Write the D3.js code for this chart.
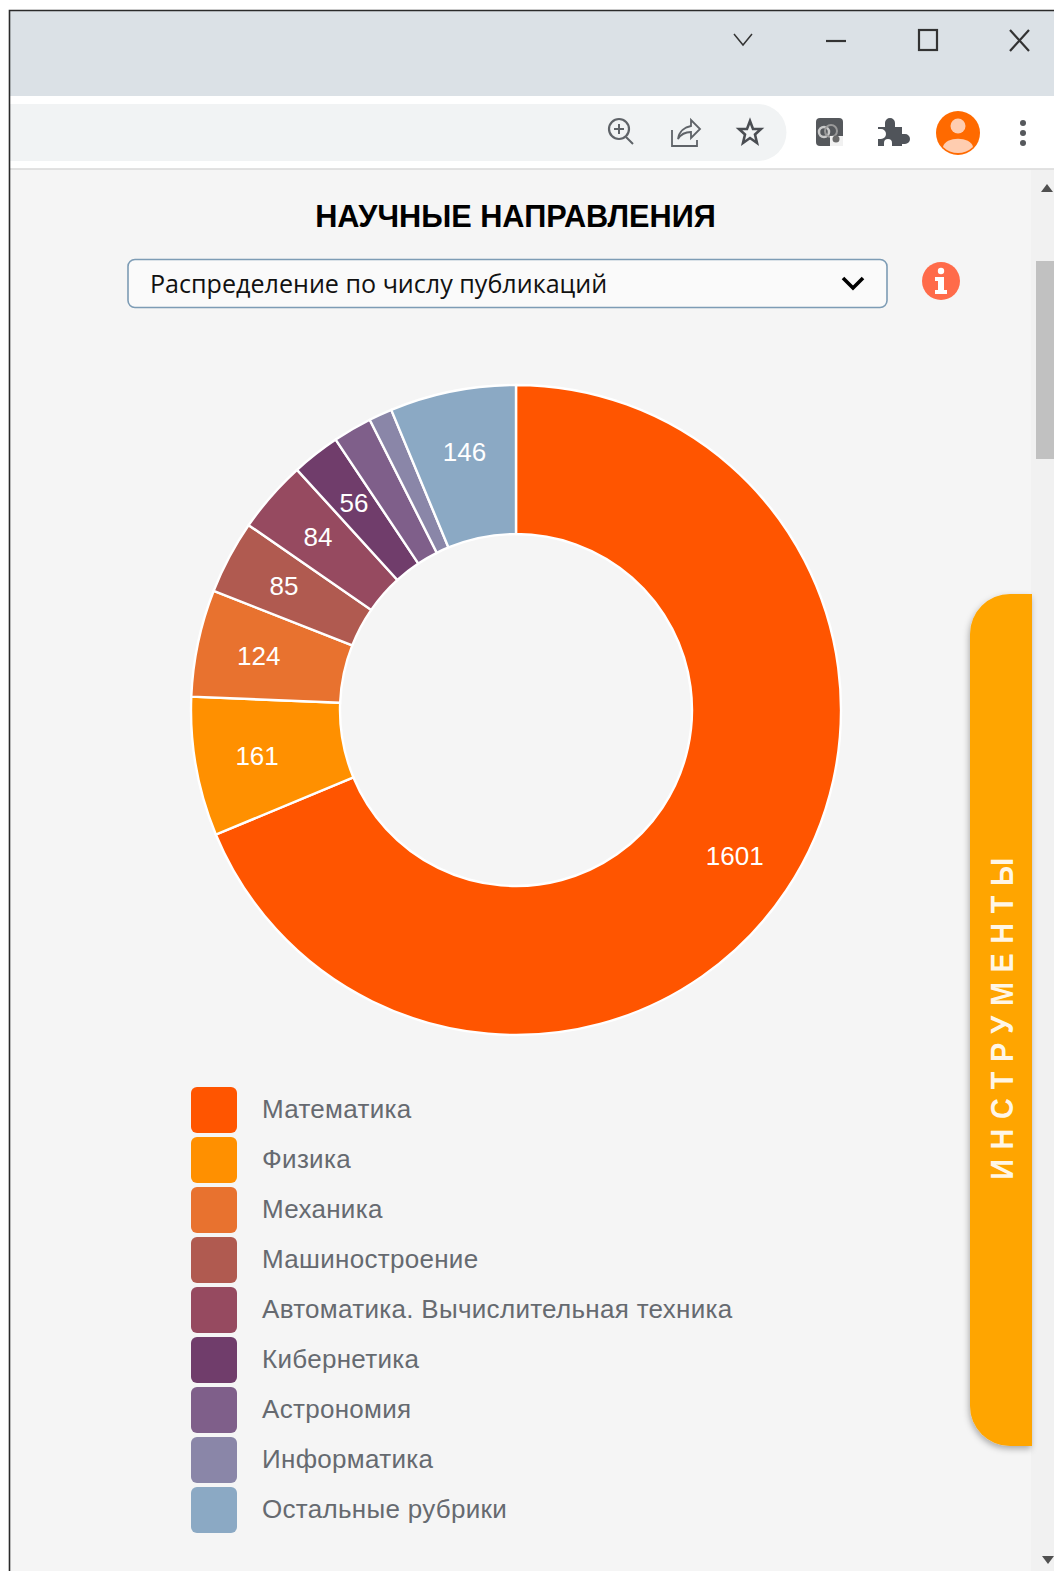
<!DOCTYPE html>
<html lang="ru">
<head>
<meta charset="utf-8">
<title>Научные направления</title>
<script src="https://cdn.jsdelivr.net/npm/d3@7"></script>
<style>
  html, body { margin: 0; padding: 0; background: #fff; }
  svg { display: block; }
</style>
</head>
<body>
<div id="app"></div>
<script>
// Publication counts per research area
const categories = ["Математика", "Физика", "Механика", "Машиностроение",
  "Автоматика. Вычислительная техника", "Кибернетика", "Астрономия",
  "Информатика", "Остальные рубрики"];
const publications = [1601, 161, 124, 85, 84, 56, 45, 27, 146];
const sliceColors = ["#ff5500", "#ff9000", "#e8722f", "#b05a50", "#964a60",
  "#703d6b", "#7f5f8a", "#8a86a8", "#8ba9c4"];
const labelThreshold = 50;

const W = 1054, H = 1571;
const svg = d3.select("#app").append("svg").attr("width", W).attr("height", H);

// Browser window frame
svg.append("rect").attr("x", 9).attr("y", 10).attr("width", W).attr("height", H).attr("fill", "#f5f5f5");
svg.append("rect").attr("x", 9).attr("y", 10).attr("width", W).attr("height", 86).attr("fill", "#dbe1e6");
svg.append("rect").attr("x", 9).attr("y", 96).attr("width", W).attr("height", 73).attr("fill", "#ffffff");
svg.append("path").attr("d", "M10 104H758a28 28 0 0 1 0 57H10Z").attr("fill", "#f1f3f4");
svg.append("line").attr("x1", 9).attr("x2", W).attr("y1", 169).attr("y2", 169).attr("stroke", "#d8d8d8").attr("stroke-width", 1.5);
svg.append("path").attr("d", `M9.5 ${H}V10.5H${W}`).attr("fill", "none").attr("stroke", "#2a2a2a").attr("stroke-width", 1.6);

// Window controls
const ctl = svg.append("g").attr("fill", "none").attr("stroke", "#333").attr("stroke-width", 2.2);
ctl.append("path").attr("d", "M734 34L743 45L752 34").attr("stroke-width", 1.5);
ctl.append("path").attr("d", "M826 41H846");
ctl.append("rect").attr("x", 919).attr("y", 30).attr("width", 18).attr("height", 20);
ctl.append("path").attr("d", "M1010 30L1029 51M1029 30L1010 51");

// Toolbar icons
const tb = svg.append("g").attr("fill", "none").attr("stroke", "#5f6368").attr("stroke-width", 2.2);
tb.append("circle").attr("cx", 619).attr("cy", 129).attr("r", 10);
tb.append("path").attr("d", "M626 137L633 144M619 124V134M614 129H624").attr("stroke-width", 2);
tb.append("path").attr("d", "M672 130V146H697V140M678 139C679 131 685 127 691 126V120L700 129L691 138V132C686 132 681 134 678 139Z").attr("stroke-width", 1.8);
tb.append("path").attr("stroke-width", 2.6).attr("stroke", "#4a4d52")
  .attr("d", "M750 121L753 129H761L755 134.500L757 143L750 138L743 143L745 134.500L739 129H747Z");

// Extension, puzzle, avatar and menu icons
svg.append("rect").attr("x", 816).attr("y", 118).attr("width", 27).attr("height", 28).attr("rx", 4).attr("fill", "#55585c");
svg.append("circle").attr("cx", 824).attr("cy", 132).attr("r", 5).attr("fill", "none").attr("stroke", "#c9c9c9").attr("stroke-width", 2.5);
svg.append("circle").attr("cx", 831).attr("cy", 131).attr("r", 6).attr("fill", "none").attr("stroke", "#9a9a9a").attr("stroke-width", 2);
svg.append("path").attr("d", "M830 146V136H843V146Z").attr("fill", "#f1f1f1");
svg.append("circle").attr("cx", 836).attr("cy", 139).attr("r", 3.5).attr("fill", "#6a6a6a");
svg.append("path").attr("fill", "#50545a")
  .attr("d", "M878 127H885V123a5 5 0 0 1 10 0V127H902V134H905a5 5 0 0 1 0 10H902V146H892V143a4 4 0 0 0 -8 0V146H878V139H881a5 5 0 0 0 0 -10H878Z");
svg.append("circle").attr("cx", 958).attr("cy", 133).attr("r", 22).attr("fill", "#ff6a00");
svg.append("circle").attr("cx", 958).attr("cy", 126).attr("r", 7.5).attr("fill", "#ffcdb0");
svg.append("path").attr("d", "M943 147C945 136 971 136 973 147A22 22 0 0 1 943 147Z").attr("fill", "#ffcdb0");
svg.selectAll("circle.dot").data([123, 133, 143]).join("circle").attr("class", "dot")
  .attr("cx", 1023).attr("cy", d => d).attr("r", 3).attr("fill", "#55585c");

// Scrollbar
svg.append("rect").attr("x", 1031).attr("y", 170).attr("width", 23).attr("height", H - 170).attr("fill", "#f1f1f1");
svg.append("rect").attr("x", 1036).attr("y", 261).attr("width", 18).attr("height", 198).attr("fill", "#c1c1c1");
svg.append("path").attr("d", "M1041 192L1047 184L1053 192Z").attr("fill", "#505050");
svg.append("path").attr("d", "M1042 1556H1054L1048 1564Z").attr("fill", "#505050");

// Side tab with its widely spaced caption
svg.append("defs").append("filter").attr("id", "tabShadow")
  .attr("x", "-20%").attr("y", "-5%").attr("width", "140%").attr("height", "110%")
  .append("feDropShadow").attr("dx", -1).attr("dy", 3).attr("stdDeviation", 3).attr("flood-color", "#000").attr("flood-opacity", 0.3);
svg.append("path").attr("d", "M1032 594H1010a40 40 0 0 0 -40 40V1406a40 40 0 0 0 40 40H1032Z")
  .attr("fill", "#ffa500").attr("filter", "url(#tabShadow)");
svg.append("text").attr("transform", "translate(1013,1014) rotate(-90) scale(0.9,1)")
  .attr("text-anchor", "middle").attr("font-family", "'Liberation Sans', Arial, sans-serif")
  .attr("font-weight", 700).attr("font-size", 32).attr("letter-spacing", 10.7).attr("fill", "#fff")
  .attr("fill-opacity", 0.92).text("ИНСТРУМЕНТЫ");

// Heading and selector
svg.append("text").attr("x", 515.5).attr("y", 227).attr("text-anchor", "middle")
  .attr("font-family", "'Liberation Sans', Arial, sans-serif").attr("font-weight", 700).attr("font-size", 30.7)
  .attr("fill", "#000").text("НАУЧНЫЕ НАПРАВЛЕНИЯ");
svg.append("rect").attr("x", 128).attr("y", 259.5).attr("width", 759).attr("height", 48).attr("rx", 7)
  .attr("fill", "#fafafa").attr("stroke", "#7d9cb5").attr("stroke-width", 1.6);
svg.append("text").attr("x", 150).attr("y", 293)
  .attr("font-family", "'Open Sans', sans-serif").attr("font-size", 25.1)
  .attr("fill", "#111").text("Распределение по числу публикаций");
svg.append("path").attr("d", "M843 278L853 288L863 278").attr("fill", "none").attr("stroke", "#000").attr("stroke-width", 3.6);

// Info badge
svg.append("circle").attr("cx", 941).attr("cy", 281).attr("r", 19).attr("fill", "#ff6b4a");
svg.append("circle").attr("cx", 941).attr("cy", 271).attr("r", 3.2).attr("fill", "#fff");
svg.append("path").attr("d", "M935 277H944V290H947V294H935V290H938V281H935Z").attr("fill", "#fff");

// Donut
const cx = 516, cy = 710, outerR = 325, innerR = 176, labelR = 263;
const pie = d3.pie().sort(null).value(d => d.value);
const slices = pie(categories.map((name, i) => ({ name, value: publications[i], color: sliceColors[i] })));
const arc = d3.arc().innerRadius(innerR).outerRadius(outerR);
const labelArc = d3.arc().innerRadius(labelR).outerRadius(labelR);
const donut = svg.append("g").attr("transform", `translate(${cx},${cy})`);
donut.selectAll("path").data(slices).join("path")
  .attr("d", arc).attr("fill", d => d.data.color)
  .attr("stroke", "#fff").attr("stroke-width", 2.4);
donut.selectAll("text").data(slices.filter(d => d.data.value >= labelThreshold)).join("text")
  .attr("transform", d => `translate(${labelArc.centroid(d)})`)
  .attr("text-anchor", "middle").attr("dominant-baseline", "central")
  .attr("font-family", "'Liberation Sans', Arial, sans-serif").attr("font-size", 26)
  .attr("fill", "#fff").text(d => d.data.value);

// Legend
const legendY = d3.scalePoint().domain(categories).range([1087, 1487]);
const legend = svg.append("g");
const rows = legend.selectAll("g").data(categories).join("g")
  .attr("transform", d => `translate(191,${legendY(d)})`);
rows.append("rect").attr("width", 46).attr("height", 46).attr("rx", 6)
  .attr("fill", (d, i) => sliceColors[i]);
rows.append("text").attr("x", 71).attr("y", 31)
  .attr("font-family", "'Liberation Sans', Arial, sans-serif").attr("font-size", 26)
  .attr("letter-spacing", 0.3).attr("fill", "#666a70").text(d => d);
</script>
</body>
</html>
